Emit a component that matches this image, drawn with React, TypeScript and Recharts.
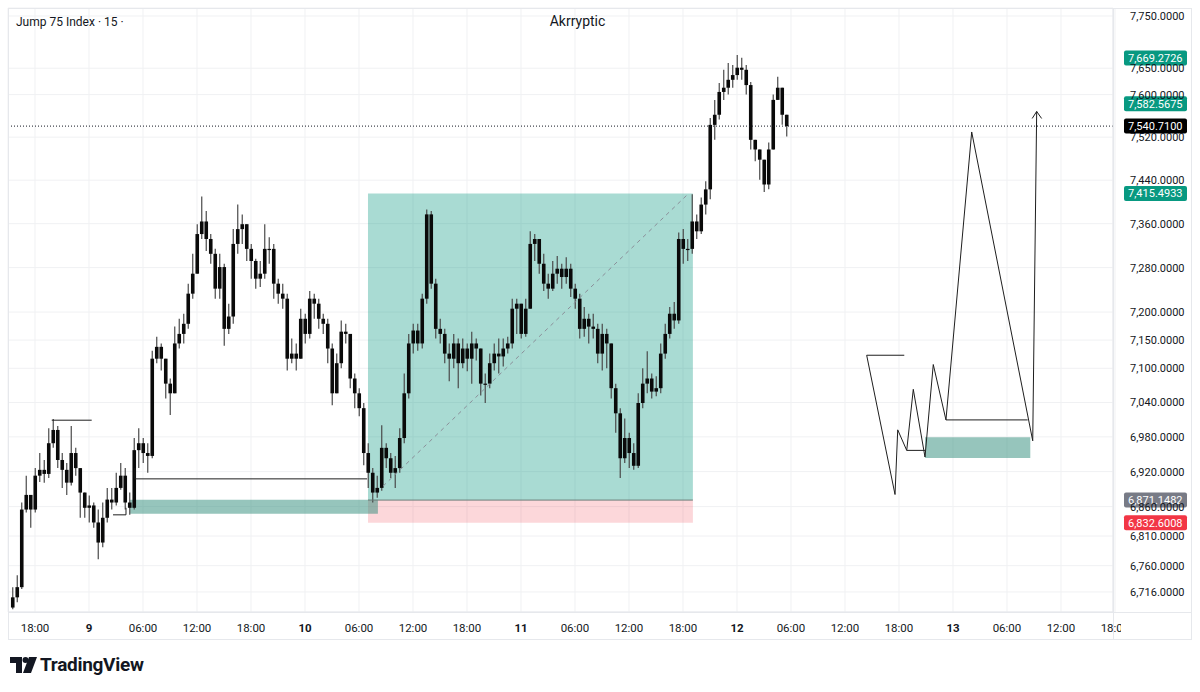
import React from 'react';
import { ComposedChart, Bar, XAxis, YAxis, CartesianGrid, ReferenceArea, ReferenceLine } from 'recharts';

// ---- time: hours relative to 00:00 on day 9, 30-minute bars ----
const START_HOUR = -8.5;
const STEP_HOURS = 0.5;
const FIRST_OPEN = 6690;

const closes = [
  6707, 6724, 6855, 6880, 6855, 6913, 6923, 6916, 6969, 6992,
  6940, 6923, 6901, 6952, 6926, 6884, 6858, 6862, 6833, 6799,
  6841, 6872, 6867, 6892, 6913, 6867, 6858, 6957, 6969, 6952,
  6947, 7117, 7138, 7117, 7073, 7056, 7144, 7161, 7179, 7233,
  7269, 7341, 7364, 7332, 7305, 7242, 7281, 7170, 7192, 7323,
  7350, 7359, 7314, 7292, 7260, 7269, 7314, 7314, 7251, 7233,
  7224, 7117, 7126, 7117, 7188, 7161, 7224, 7215, 7188, 7179,
  7135, 7056, 7109, 7165, 7161, 7082, 7056, 7030, 6952, 6918,
  6884, 6892, 6961, 6943, 6918, 6926, 6978, 7056, 7144, 7167,
  7144, 7224, 7377, 7251, 7170, 7161, 7126, 7117, 7144, 7109,
  7135, 7117, 7144, 7135, 7073, 7073, 7109, 7126, 7121, 7135,
  7144, 7206, 7215, 7161, 7206, 7323, 7332, 7287, 7251, 7242,
  7269, 7278, 7263, 7278, 7242, 7224, 7170, 7188, 7174, 7170,
  7126, 7161, 7144, 7065, 7021, 6943, 6978, 6952, 6930, 7039,
  7073, 7082, 7059, 7065, 7126, 7161, 7197, 7185, 7332, 7314,
  7314, 7364, 7346, 7395, 7423, 7543, 7562, 7605, 7613, 7628,
  7637, 7651, 7647, 7618, 7515, 7497, 7478, 7432, 7497, 7590,
  7613, 7562, 7540.71,
];
const highs = [
  6724, 6744, 6867, 6913, 6875, 6926, 6952, 6940, 6995, 7011,
  6999, 6952, 6935, 6999, 6961, 6926, 6884, 6879, 6867, 6855,
  6867, 6892, 6892, 6918, 6935, 6926, 6884, 6978, 6995, 6978,
  6969, 7131, 7156, 7144, 7117, 7082, 7174, 7188, 7197, 7251,
  7305, 7359, 7410, 7383, 7341, 7314, 7305, 7287, 7215, 7350,
  7395, 7377, 7359, 7323, 7296, 7292, 7359, 7335, 7323, 7260,
  7251, 7233, 7153, 7144, 7206, 7197, 7238, 7233, 7224, 7197,
  7188, 7144, 7126, 7185, 7179, 7161, 7091, 7065, 7039, 6969,
  6926, 6913, 7000, 6969, 6952, 6947, 6995, 7091, 7161, 7179,
  7179, 7233, 7386, 7383, 7260, 7188, 7170, 7144, 7161, 7153,
  7153, 7144, 7165, 7153, 7135, 7091, 7126, 7144, 7153, 7153,
  7156, 7224, 7224, 7215, 7224, 7346, 7341, 7332, 7305, 7269,
  7292, 7301, 7287, 7299, 7287, 7251, 7233, 7209, 7197, 7197,
  7179, 7179, 7170, 7144, 7073, 7030, 7012, 6987, 6969, 7056,
  7100, 7130, 7091, 7086, 7144, 7179, 7209, 7218, 7344, 7350,
  7332, 7414, 7377, 7408, 7438, 7556, 7590, 7622, 7647, 7660,
  7656, 7675, 7670, 7656, 7624, 7515, 7497, 7478, 7510, 7600,
  7634, 7609, 7553,
];
const lows = [
  6687, 6699, 6721, 6850, 6824, 6850, 6902, 6901, 6909, 6961,
  6926, 6892, 6880, 6896, 6913, 6841, 6841, 6833, 6824, 6771,
  6791, 6833, 6855, 6862, 6889, 6855, 6846, 6855, 6926, 6935,
  6918, 6943, 7109, 7096, 7047, 7018, 7056, 7135, 7144, 7170,
  7224, 7269, 7332, 7310, 7287, 7224, 7224, 7140, 7161, 7179,
  7305, 7323, 7292, 7260, 7242, 7245, 7260, 7287, 7224, 7215,
  7206, 7096, 7109, 7096, 7117, 7144, 7153, 7188, 7170, 7161,
  7109, 7035, 7056, 7100, 7144, 7065, 7030, 7016, 6931, 6892,
  6867, 6875, 6887, 6926, 6909, 6892, 6918, 6969, 7047, 7126,
  7131, 7135, 7215, 7242, 7153, 7144, 7109, 7077, 7100, 7065,
  7100, 7095, 7073, 7114, 7052, 7039, 7065, 7096, 7091, 7103,
  7126, 7135, 7161, 7153, 7156, 7206, 7292, 7269, 7238, 7224,
  7238, 7251, 7242, 7251, 7227, 7206, 7153, 7156, 7144, 7153,
  7109, 7096, 7100, 7047, 6987, 6909, 6935, 6926, 6923, 6926,
  7030, 7056, 7047, 7051, 7056, 7117, 7153, 7170, 7179, 7287,
  7292, 7305, 7332, 7341, 7377, 7405, 7515, 7553, 7590, 7600,
  7613, 7628, 7628, 7600, 7497, 7475, 7441, 7418, 7423, 7497,
  7590, 7543, 7521,
];

// ---- axes ----
const priceTicks = [6716, 6760, 6810, 6860, 6920, 6980, 7040, 7100, 7150, 7200, 7280, 7360, 7440, 7520, 7600, 7650, 7750];
const PRICE_DOMAIN = [6682.6, 7765.4];
const timeTicks = [-6, 0, 6, 12, 18, 24, 30, 36, 42, 48, 54, 60, 66, 72, 78, 84, 90, 96, 102, 108, 114];
const TIME_DOMAIN = [-9, 113.78];
const FIRST_DAY = 9;

// ---- price labels on the axis ----
const badgeValues = [7669.2726, 7582.5675, 7540.71, 7415.4933, 6871.1482, 6832.6008];
const badgeColors = ['#089981', '#089981', '#000000', '#089981', '#787b86', '#f23645'];

// ---- long position tool ----
const POS_START = 31.0;
const POS_END = 67.1;
const ENTRY = 6871.1482;
const TARGET = 7415.4933;
const STOP = 6832.6008;
const diagonal = [
  { x: 32.67, y: 6895 },
  { x: 66.6, y: 7415 },
];

// ---- demand zones ----
const zoneLeft = { t1: 4.56, t2: 32.1, p1: 6848, p2: 6871.7 };
const zoneRight = { t1: 92.89, t2: 104.59, p1: 6943.4, p2: 6979.5 };

// ---- hand-drawn lines ----
const levelLines = [
  [{ x: -4.14, y: 7009 }, { x: 0.3, y: 7009 }],
  [{ x: 2.67, y: 6846 }, { x: 4.11, y: 6846 }],
  [{ x: 4.11, y: 6846 }, { x: 4.11, y: 6858 }],
  [{ x: 5.1, y: 6926 }, { x: 5.1, y: 6907.5 }],
  [{ x: 5.1, y: 6907.5 }, { x: 30.9, y: 6907.5 }],
  [{ x: 86.41, y: 7123.1 }, { x: 90.59, y: 7123.1 }],
  [{ x: 90.86, y: 6956.6 }, { x: 92.89, y: 6956.6 }],
  [{ x: 95.22, y: 7009.5 }, { x: 104.3, y: 7009.5 }],
];
const projT = [86.41, 89.56, 89.86, 90.86, 91.59, 92.89, 93.81, 95.22, 98.08, 104.86, 105.3];
const projP = [7123.1, 6880.7, 6992.2, 6956.6, 7063, 6945.1, 7106.7, 7009.5, 7529.7, 6973.2, 7568.2];

const candles = closes.map((c, i) => {
  const open = i === 0 ? FIRST_OPEN : closes[i - 1];
  const high = Math.max(highs[i], open, c);
  const low = Math.min(lows[i], open, c);
  return { t: START_HOUR + i * STEP_HOURS, open, close: c, high, low, range: [low, high] };
});

const fmt = (v: number) =>
  v.toLocaleString('en-US', { minimumFractionDigits: 4, maximumFractionDigits: 4 });

const FONT = 'Roboto, "Liberation Sans", Arial, sans-serif';

const Candle = (props: any) => {
  const { x, y, width, height, payload } = props;
  if (x == null || y == null || !payload) return null;
  const cx = x + width / 2;
  const lh = Math.log(payload.high);
  const ll = Math.log(payload.low);
  const span = lh - ll || 1;
  const py = (v: number) => y + ((lh - Math.log(v)) / span) * height;
  const yo = py(payload.open);
  const yc = py(payload.close);
  const top = Math.min(yo, yc);
  const bh = Math.max(1.2, Math.abs(yo - yc));
  return (
    <g>
      <line x1={cx} x2={cx} y1={y} y2={y + height} stroke="#4a4a4a" strokeWidth={1.2} />
      <rect x={cx - 1.8} y={top} width={3.6} height={bh} fill="#0a0a0a" />
    </g>
  );
};

const TimeTick = (props: any) => {
  const { x, payload } = props;
  const t = payload.value;
  const h = ((t % 24) + 24) % 24;
  const isDay = h === 0;
  const label = isDay ? String(FIRST_DAY + t / 24) : `${String(h).padStart(2, '0')}:00`;
  return (
    <text x={x} y={632} textAnchor="middle" fontSize={11.5} fontFamily={FONT}
      fontWeight={isDay ? 700 : 400} fill="#131722">
      {label}
    </text>
  );
};

const PriceTick = (props: any) => {
  const { y, payload } = props;
  return (
    <text x={1130} y={y + 4} textAnchor="start" fontSize={11} fontFamily={FONT} fill="#131722">
      {fmt(payload.value)}
    </text>
  );
};

const makeBadge = (value: number, color: string) => (props: any) => {
  const vb = props.viewBox || {};
  const cy = vb.y;
  return (
    <g>
      <rect x={1124} y={cy - 7.5} width={63} height={15} rx={2} fill={color} />
      <text x={1128} y={cy + 4} fontSize={11} fontFamily={FONT} fill="#ffffff">{fmt(value)}</text>
    </g>
  );
};

export default function App() {
  const projSegments = projT.slice(1).map((t, i) => [
    { x: projT[i], y: projP[i] },
    { x: t, y: projP[i + 1] },
  ]);
  return (
    <div style={{ position: 'absolute', left: 0, top: 0, width: 1200, height: 692, background: '#ffffff', fontFamily: FONT, overflow: 'hidden' }}>
      <ComposedChart width={1200} height={692} data={candles}
        margin={{ top: 8, right: 8, left: 8, bottom: 52 }}>
        <CartesianGrid stroke="#f0f1f3" strokeWidth={1} />
        <XAxis dataKey="t" type="number" domain={TIME_DOMAIN} ticks={timeTicks}
          allowDataOverflow height={28} tickLine={false}
          axisLine={{ stroke: '#e6e8ec' }} tick={<TimeTick />} interval={0} />
        <YAxis yAxisId={0} orientation="right" scale="log" type="number"
          domain={PRICE_DOMAIN} allowDataOverflow ticks={priceTicks} width={79}
          tickLine={false} axisLine={{ stroke: '#e6e8ec' }} tick={<PriceTick />} interval={0} />

        <ReferenceArea x1={POS_START} x2={POS_END} y1={ENTRY} y2={TARGET}
          fill="#089981" fillOpacity={0.35} stroke="none" ifOverflow="visible" />
        <ReferenceArea x1={POS_START} x2={POS_END} y1={STOP} y2={ENTRY}
          fill="#f23645" fillOpacity={0.2} stroke="none" ifOverflow="visible" />
        <ReferenceArea x1={zoneLeft.t1} x2={zoneLeft.t2} y1={zoneLeft.p1} y2={zoneLeft.p2}
          fill="#2e8b7a" fillOpacity={0.5} stroke="none" ifOverflow="visible" />
        <ReferenceArea x1={zoneRight.t1} x2={zoneRight.t2} y1={zoneRight.p1} y2={zoneRight.p2}
          fill="#2e8b7a" fillOpacity={0.5} stroke="none" ifOverflow="visible" />
        <ReferenceLine segment={[{ x: POS_START, y: ENTRY }, { x: POS_END, y: ENTRY }]}
          stroke="#6b7f7a" strokeWidth={1} ifOverflow="visible" />
        <ReferenceLine segment={diagonal} stroke="#8a8f99" strokeDasharray="4 4" strokeWidth={1} ifOverflow="visible" />

        <Bar dataKey="range" shape={<Candle />} barSize={3} isAnimationActive={false} />

        {levelLines.map((s, i) => (
          <ReferenceLine key={`l${i}`} segment={s} stroke="#1e1e1e" strokeWidth={1} ifOverflow="visible" />
        ))}
        {projSegments.map((s, i) => (
          <ReferenceLine key={`p${i}`} segment={s} stroke="#1e1e1e" strokeWidth={1} ifOverflow="visible" />
        ))}
        <ReferenceLine segment={[{ x: 104.8, y: 7555 }, { x: 105.3, y: 7568.2 }]} stroke="#1e1e1e" ifOverflow="visible" />
        <ReferenceLine segment={[{ x: 105.3, y: 7568.2 }, { x: 105.85, y: 7555 }]} stroke="#1e1e1e" ifOverflow="visible" />

        <ReferenceLine y={7540.71} stroke="#131722" strokeDasharray="1 2" strokeWidth={1} ifOverflow="visible" />
        {badgeValues.map((v, i) => (
          <ReferenceLine key={`b${i}`} y={v} stroke="none" ifOverflow="visible" label={makeBadge(v, badgeColors[i])} />
        ))}
      </ComposedChart>

      <div style={{ position: 'absolute', left: 16, top: 15, fontSize: 12, color: '#131722' }}>Jump 75 Index · 15 ·</div>
      <div style={{ position: 'absolute', left: 0, width: 1155, top: 13, textAlign: 'center', fontSize: 14, color: '#131722' }}>Akrryptic</div>
      <div style={{ position: 'absolute', left: 1121, top: 616, width: 70, height: 22, background: '#ffffff' }} />
      <svg style={{ position: 'absolute', left: 0, top: 0 }} width={1200} height={692} pointerEvents="none">
        <rect x={8.5} y={8.5} width={1183} height={631} fill="none" stroke="#e6e8ec" />
        <line x1={1113.5} x2={1113.5} y1={8} y2={640} stroke="#e6e8ec" />
        <line x1={8} x2={1192} y1={612.5} y2={612.5} stroke="#e6e8ec" />
        <path d="M10 657 H22 V673 H16 V663 H10 Z" fill="#131722" />
        <circle cx={25.5} cy={660} r={3} fill="#131722" />
        <path d="M29 657 H37 L31 673 H23 Z" fill="#131722" />
      </svg>
      <div style={{ position: 'absolute', left: 40, top: 653, fontSize: 19, fontWeight: 700, color: '#131722', letterSpacing: -0.3 }}>TradingView</div>
    </div>
  );
}
